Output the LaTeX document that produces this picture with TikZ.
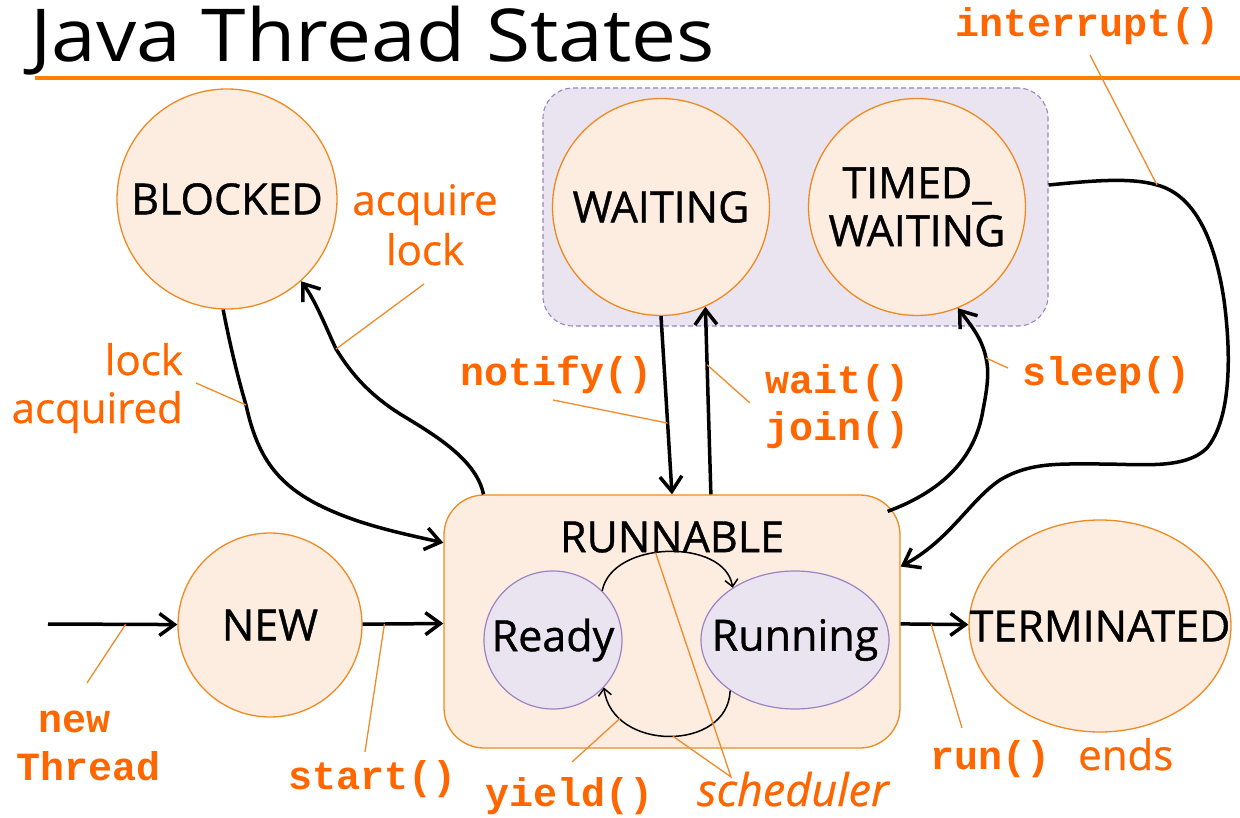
\documentclass[tikz,border=0pt]{standalone}
\usepackage{fontspec}
\usepackage{graphicx}
\setmainfont{Open Sans}
\newfontfamily\statefont{Open Sans}[FakeBold=0.9]
\newfontfamily\notefont{Open Sans}[FakeBold=0.6]
\newfontfamily\codefont{Liberation Mono}
\usetikzlibrary{arrows.meta,shapes.geometric}
\definecolor{peach}{HTML}{FDECE0}
\definecolor{stateline}{HTML}{EE8A22}
\definecolor{lilac}{HTML}{EAE4F0}
\definecolor{lilacline}{HTML}{9B84C3}
\definecolor{hint}{HTML}{FF6600}
\definecolor{leaderc}{HTML}{F08A2A}
\definecolor{rulec}{HTML}{FF8000}
\begin{document}
\begin{tikzpicture}[x=1pt,y=-1pt,
  state/.style={circle,draw=stateline,fill=peach,line width=1.3pt,inner sep=0pt,
    font=\statefont\fontsize{43}{48}\selectfont},
  substate/.style={draw=lilacline,fill=lilac,line width=1.2pt,inner sep=0pt,
    font=\statefont\fontsize{43}{48}\selectfont},
  flow/.style={line width=3.5pt,-{Straight Barb[length=15pt,width=22pt]}},
  thinflow/.style={line width=1.5pt,-{Straight Barb[length=7pt,width=13pt]}},
  leader/.style={draw=leaderc,line width=1.3pt},
  code/.style={font=\codefont\bfseries\fontsize{40}{48}\selectfont,text=hint,inner sep=0pt},
  note/.style={font=\notefont\fontsize{42}{48}\selectfont,text=hint,inner sep=0pt},
]
\useasboundingbox (0,0) rectangle (1240,818);

% heading and rule
\node[anchor=base west,inner sep=0pt] (title) at (30,62)
  {\resizebox{685pt}{\height}{\fontsize{73}{80}\selectfont Java Thread States}};
\coordinate (ruleA) at (35,78);
\coordinate (ruleB) at (1240,78);
\draw[rulec,line width=4pt] (ruleA) -- (ruleB);

% group of the waiting states
\node[draw=lilacline,dashed,dash pattern=on 5pt off 3pt,fill=lilac,line width=1.1pt,
  rounded corners=30pt,minimum width=505pt,minimum height=238pt,inner sep=0pt]
  (waitbox) at (795.5,207) {};

% runnable container
\node[draw=stateline,fill=peach,line width=1.3pt,rounded corners=40pt,
  minimum width=456pt,minimum height=253pt,inner sep=0pt] (runnable) at (672,621.5) {};
\node[font=\statefont\fontsize{43}{48}\selectfont,inner sep=0pt] (runlabel) at (672,537) {RUNNABLE};

% states
\node[state,minimum size=220pt] (blocked) at (227,199) {BLOCKED};
\node[state,minimum size=217pt] (waiting) at (661,207) {WAITING};
\node[state,minimum size=217pt,align=center] (timed) at (917,207) {TIMED\_\\WAITING};
\node[state,minimum size=184pt] (new) at (270,625) {NEW};
\node[state,ellipse,minimum width=262pt,minimum height=212pt] (terminated) at (1100,626)
  {\makebox[0pt]{TERMINATED}};
\node[substate,circle,minimum size=138pt] (ready) at (553,640) {Ready};
\node[substate,ellipse,minimum width=188pt,minimum height=138pt] (running) at (795,640)
  {\makebox[0pt]{Running}};

% labels
\node[code,anchor=base west] (lblInterrupt) at (955,37) {interrupt()};
\node[code,anchor=base west] (lblNotify) at (460,385) {notify()};
\node[code,anchor=base west] (lblWait) at (765,393) {wait()};
\node[code,anchor=base west] (lblJoin) at (765,440) {join()};
\node[code,anchor=base west] (lblSleep) at (1022,385) {sleep()};
\node[code,anchor=base] (lblNew) at (75,732) {new};
\node[code,anchor=base] (lblThread) at (89,780) {Thread};
\node[code,anchor=base west] (lblStart) at (288,789) {start()};
\node[code,anchor=base west] (lblYield) at (485,806) {yield()};
\node[code,anchor=base west] (lblRun) at (930,769) {run()};
\node[note,anchor=base west] (lblEnds) at (1078,770) {ends};
\node[note,anchor=base west,font=\notefont\fontsize{45}{48}\selectfont\itshape] (lblSched) at (697,806) {scheduler};
\node[note,anchor=base] (lblAcqA) at (425,215) {acquire};
\node[note,anchor=base] (lblAcqB) at (425,265) {lock};
\node[note,anchor=base east] (lblLockA) at (183,375) {lock};
\node[note,anchor=base east] (lblLockB) at (183,423) {acquired};

% creation and start
\coordinate (entry) at (48,624);
\draw[flow] (entry) -- coordinate[pos=0.6] (pNew) (new);
\coordinate (tNew) at (87,683);
\draw[leader] (pNew) -- (tNew);

\draw[flow] (new) -- coordinate[pos=0.27] (pStart) (runnable);
\coordinate (tStart) at (365,752);
\draw[leader] (pStart) -- (tStart);

% blocked <-> runnable
\coordinate (pLock) at (246,405);
\draw[flow] (blocked.-92) .. controls (230,345) and (238,378) .. (pLock)
  .. controls (256,450) and (272,480) .. (315,503)
  .. controls (355,524) and (400,533) .. (runnable.161);
\coordinate (tLock) at (196,383);
\draw[leader] (pLock) -- (tLock);

\coordinate (pAcq) at (336,349);
\draw[flow] (runnable.146) .. controls (477,462) and (440,438) .. (405,417)
  .. controls (365,393) and (348,368) .. (pAcq)
  .. controls (325,325) and (315,300) .. (blocked.-48);
\coordinate (tAcq) at (424,284);
\draw[leader] (pAcq) -- (tAcq);

% waiting <-> runnable
\draw[flow] (waiting.south) -- coordinate[pos=0.6] (pNotify) (runnable.north);
\coordinate (tNotify) at (553,400);
\draw[leader] (tNotify) -- (pNotify);

\draw[flow] (runnable.73) -- coordinate[pos=0.69] (pWait) (waiting.-66);
\coordinate (tWait) at (750,403);
\draw[leader] (pWait) -- (tWait);

% runnable -> timed waiting
\coordinate (pSleep) at (986,358);
\draw[flow] ([xshift=-13pt,yshift=-17pt]runnable.north east)
  .. controls (940,492) and (975,460) .. (983,410)
  .. controls (988,385) and (989,370) .. (pSleep)
  .. controls (982,338) and (970,324) .. (timed.-68);
\coordinate (tSleep) at (1008,368);
\draw[leader] (pSleep) -- (tSleep);

% timed waiting / waiting -> runnable on interrupt
\coordinate (pInt) at (1157,185);
\draw[flow] ([yshift=22pt]waitbox.east) .. controls (1090,181) and (1130,177) .. (pInt)
  .. controls (1195,195) and (1215,240) .. (1224,300)
  .. controls (1232,360) and (1230,420) .. (1207,448)
  .. controls (1185,470) and (1140,464) .. (1100,464)
  .. controls (1060,464) and (1030,462) .. (1000,480)
  .. controls (970,500) and (950,540) .. ([yshift=55pt]runnable.east);
\coordinate (tInt) at (1090,55);
\draw[leader] (tInt) -- (pInt);

% termination
\draw[flow] (runnable) -- coordinate[pos=0.45] (pRun) (terminated);
\coordinate (tRun) at (962,728);
\draw[leader] (pRun) -- (tRun);

% scheduling inside runnable
\draw[thinflow] (ready.45) .. controls (612,540) and (725,538) ..
  coordinate[pos=0.43] (pSchedA) (running.140);
\draw[thinflow] (running.218) .. controls (728,752) and (612,752) ..
  coordinate[pos=0.48] (pSchedB) coordinate[pos=0.8] (pYield) (ready.-43);
\coordinate (tSched) at (731,777);
\draw[leader] (pSchedA) -- (tSched) -- (pSchedB);
\coordinate (tYield) at (572,762);
\draw[leader] (pYield) -- (tYield);
\end{tikzpicture}
\end{document}
